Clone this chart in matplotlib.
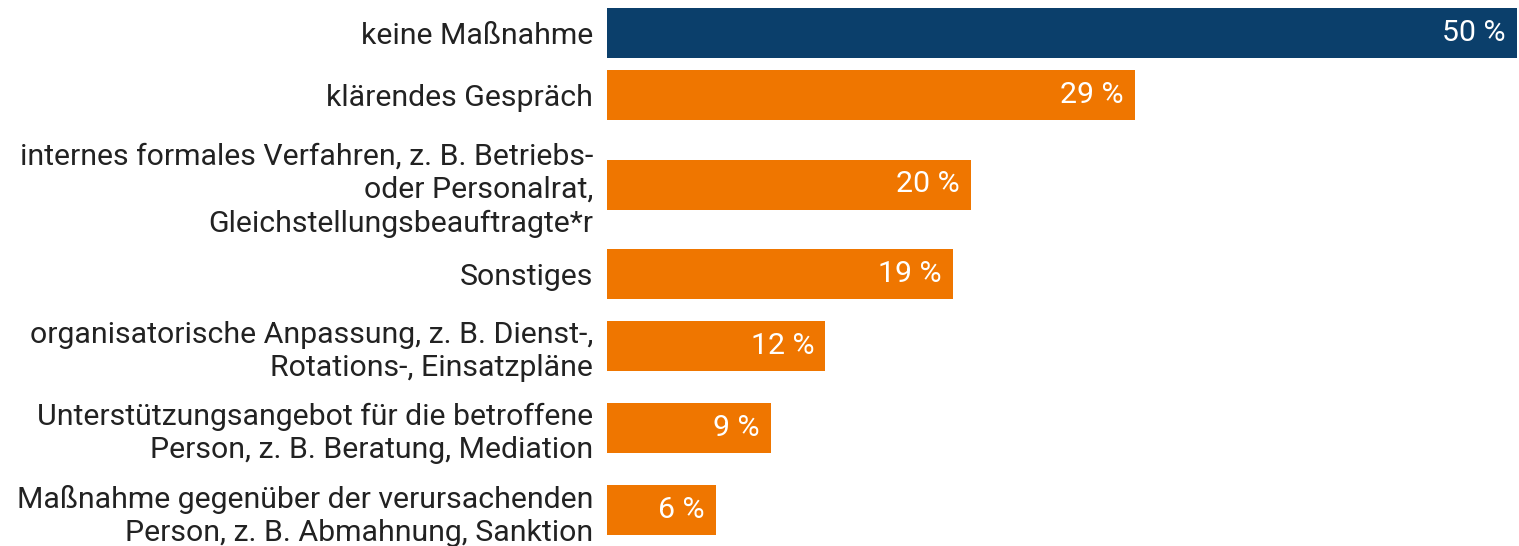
import numpy as np
import matplotlib.pyplot as plt

plt.rcParams['font.family'] = ['Roboto', 'DejaVu Sans']

# data
labels = ['keine Maßnahme',
          'klärendes Gespräch',
          'internes formales Verfahren, z. B. Betriebs-\noder Personalrat,\nGleichstellungsbeauftragte*r',
          'Sonstiges',
          'organisatorische Anpassung, z. B. Dienst-,\nRotations-, Einsatzpläne',
          'Unterstützungsangebot für die betroffene\nPerson, z. B. Beratung, Mediation',
          'Maßnahme gegenüber der verursachenden\nPerson, z. B. Abmahnung, Sanktion']
values = [50, 29, 20, 19, 12, 9, 6]
highlight = [True, False, False, False, False, False, False]

navy = '#0b3f6b'
orange = '#ef7600'
txt = '#222222'

# row heights depend on how many lines the label has
bar_h = 50
line_h = 35
gap = 12
rows = [max(bar_h, line_h * (l.count('\n') + 1)) + gap for l in labels]
ypos = [8 + bar_h / 2]
for i in range(1, len(rows)):
    ypos.append(ypos[-1] + (rows[i - 1] + rows[i]) / 2)

fig = plt.figure(figsize=(15.19, 5.46), dpi=100)
ax = fig.add_axes([607 / 1519, 0, 910 / 1519, 1])

cols = [navy if h else orange for h in highlight]
ax.barh(ypos, values, height=bar_h, color=cols)

ax.set_xlim(0, 50)
ax.set_ylim(546, 0)
ax.set_yticks(ypos)
ax.set_yticklabels(labels, fontsize=21.8, color=txt, linespacing=1.24)
ax.tick_params(axis='y', length=0, pad=10)
ax.set_xticks([])
for s in ax.spines.values():
    s.set_visible(False)

for y, v in zip(ypos, values):
    ax.annotate(f'{v} %', xy=(v, y), xytext=(-8, 0), textcoords='offset points',
                ha='right', va='center', color='white', fontsize=21.8)

plt.savefig('out.png', dpi=100)
